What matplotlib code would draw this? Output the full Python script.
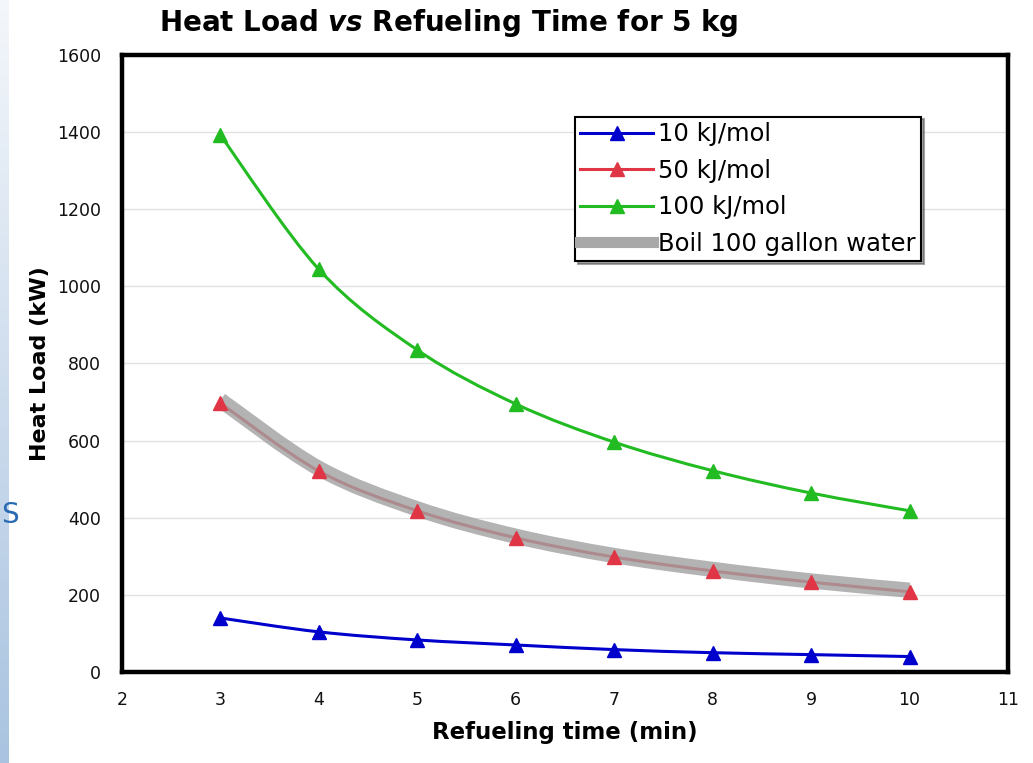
import matplotlib.pyplot as plt
from matplotlib import rcParams
from matplotlib.path import Path
from matplotlib.patches import PathPatch
from matplotlib.colors import LinearSegmentedColormap
import numpy as np

rcParams.update({
    "font.family": "DejaVu Sans",
    "font.size": 12,
})

time_min = [3, 4, 5, 6, 7, 8, 9, 10]
load_10 = [140, 104, 83, 70, 58, 50, 45, 40]
load_50 = [697, 521, 418, 348, 298, 262, 233, 208]
load_100 = [1392, 1044, 835, 695, 596, 522, 464, 418]
boil_water = [705, 528, 423, 352, 302, 266, 236, 212]

xticks = list(range(2, 12))
yticks = list(range(0, 1601, 200))


def smooth_path(x, y):
    # Excel-style smoothed line: cubic Bezier segments through the data points
    p = np.column_stack([x, y]).astype(float)
    n = len(p)
    verts = [p[0]]
    codes = [Path.MOVETO]
    for i in range(n - 1):
        p0 = p[i - 1] if i > 0 else p[i]
        p3 = p[i + 2] if i + 2 < n else p[i + 1]
        c1 = p[i] + (p[i + 1] - p0) / 6
        c2 = p[i + 1] - (p3 - p[i]) / 6
        verts += [c1, c2, p[i + 1]]
        codes += [Path.CURVE4] * 3
    return Path(verts, codes)


def curve(ax, x, y, color, lw, z, alpha=1.0):
    ax.add_patch(PathPatch(smooth_path(x, y), facecolor="none", edgecolor=color,
                           linewidth=lw, alpha=alpha, zorder=z, capstyle="butt"))


fig = plt.figure(figsize=(10.33, 7.63), dpi=100)

# slide background strip on the far left
bg = fig.add_axes([0, 0, 0.008, 1])
grad = np.linspace(0, 1, 256).reshape(-1, 1)
bg.imshow(grad, aspect="auto", cmap=LinearSegmentedColormap.from_list(
    "strip", ["#f4f7fb", "#a9c3e0"]), extent=[0, 1, 0, 1], origin="upper")
bg.axis("off")
fig.text(0.001, 0.325, "S", color="#2a6ab3", fontsize=20, ha="left", va="center")

ax = fig.add_axes([0.1181, 0.1193, 0.8577, 0.8086])

curve(ax, time_min, load_50, "#e03545", 2.2, 3)
curve(ax, time_min, boil_water, "#a0a0a0", 11, 4, alpha=0.8)
ax.plot(time_min, load_50, color="#e03545", linestyle="none", marker="^",
        markersize=10, zorder=5)
curve(ax, time_min, load_10, "#0000cc", 2.2, 5)
ax.plot(time_min, load_10, color="#0000cc", linestyle="none", marker="^",
        markersize=10, zorder=5)
curve(ax, time_min, load_100, "#22bb22", 2.2, 5)
ax.plot(time_min, load_100, color="#22bb22", linestyle="none", marker="^",
        markersize=10, zorder=5)

# legend handles in the original order
h10, = ax.plot([], [], color="#0000cc", linewidth=2.2, marker="^", markersize=10)
h50, = ax.plot([], [], color="#e03545", linewidth=2.2, marker="^", markersize=10)
h100, = ax.plot([], [], color="#22bb22", linewidth=2.2, marker="^", markersize=10)
hboil, = ax.plot([], [], color="#a8a8a8", linewidth=8)
leg = ax.legend([h10, h50, h100, hboil],
                ["10 kJ/mol", "50 kJ/mol", "100 kJ/mol", "Boil 100 gallon water"],
                loc="upper left", bbox_to_anchor=(0.511, 0.9), fontsize=17.5,
                frameon=True, fancybox=False, shadow=True, handlelength=3.0,
                handletextpad=0.2, labelspacing=0.52, borderpad=0.22,
                borderaxespad=0)
leg.get_frame().set_edgecolor("black")
leg.get_frame().set_linewidth(1.5)

ax.set_xlim(2, 11)
ax.set_ylim(0, 1600)
ax.set_xticks(xticks)
ax.set_yticks(yticks)
ax.tick_params(length=0, labelsize=12.5, colors="#111111")
ax.tick_params(axis="x", pad=14)
ax.tick_params(axis="y", pad=15)
ax.grid(axis="y", color="#e2e2e2", linewidth=1)
ax.set_axisbelow(True)
for s in ax.spines.values():
    s.set_linewidth(3.2)
    s.set_color("black")

ax.set_xlabel("Refueling time (min)", fontsize=16.5, fontweight="bold", labelpad=8)
ax.set_ylabel("Heat Load (kW)", fontsize=16, fontweight="bold", labelpad=5)
fig.text(0.434, 0.97, r"Heat Load $\boldsymbol{vs}$ Refueling Time for 5 kg",
         fontsize=20, fontweight="bold", ha="center", va="center")

fig.savefig("out.png", dpi=100)
